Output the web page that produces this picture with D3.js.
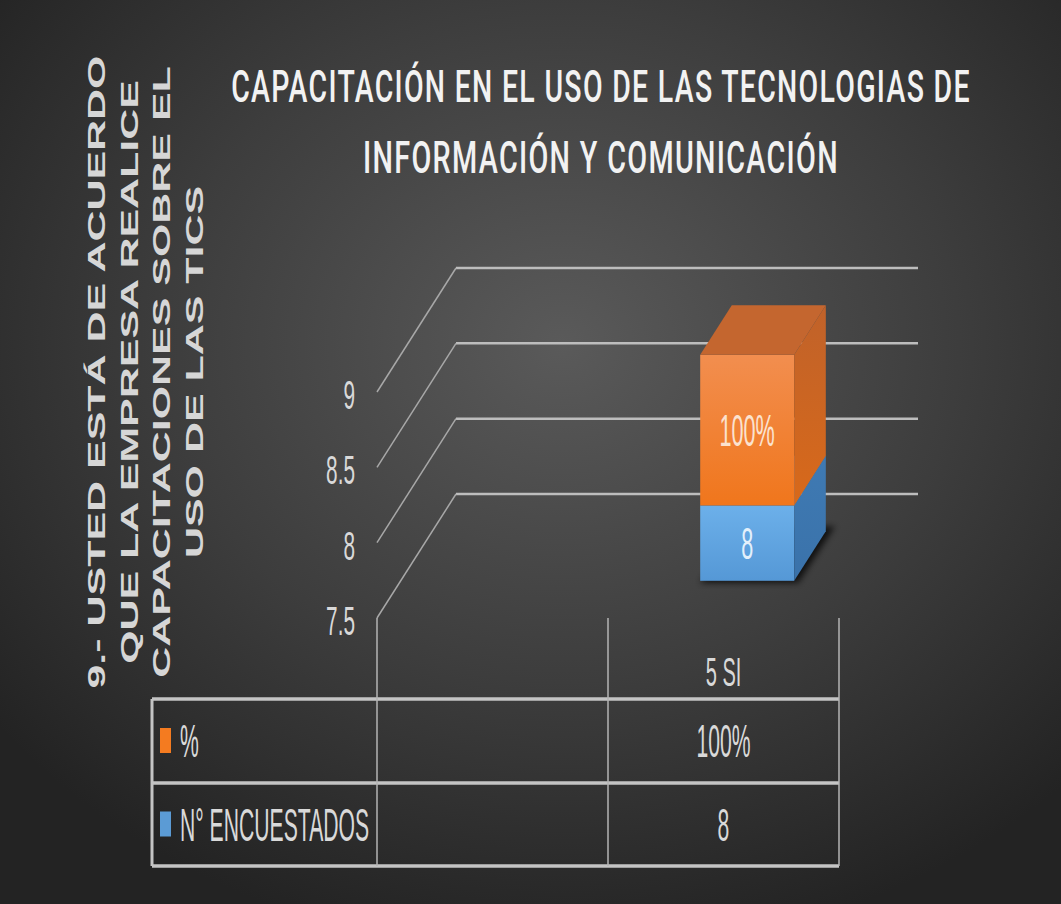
<!DOCTYPE html>
<html>
<head>
<meta charset="utf-8">
<script src="https://cdn.jsdelivr.net/npm/d3@7"></script>
<style>
  html, body { margin: 0; padding: 0; background: #2a2a2a; }
  svg { display: block; }
</style>
</head>
<body>
<div id="chart"></div>
<script>
// datos del grafico
var categories = ["", "5 SI"];
var seriesNames = ["N° ENCUESTADOS", "%"];
var encuestados = [null, 8];
var porcentaje = [null, 1];
var yTicks = [7.5, 8, 8.5, 9];
var titleLines = ["CAPACITACIÓN EN EL USO DE LAS TECNOLOGIAS DE", "INFORMACIÓN Y COMUNICACIÓN"];
var yTitleLines = ["9.- USTED ESTÁ DE ACUERDO", "QUE LA EMPRESA REALICE", "CAPACITACIONES SOBRE EL", "USO DE LAS TICS"];

var width = 1061, height = 904;
var fmtPct = d3.format(".0%");

var svg = d3.select("#chart").append("svg")
  .attr("width", width)
  .attr("height", height);

var defs = svg.append("defs");

// fondo radial
var bg = defs.append("radialGradient").attr("id", "bg")
  .attr("cx", "53%").attr("cy", "38%").attr("r", "68%");
bg.append("stop").attr("offset", "0%").attr("stop-color", "#5a5a5a");
bg.append("stop").attr("offset", "55%").attr("stop-color", "#3d3d3d");
bg.append("stop").attr("offset", "100%").attr("stop-color", "#232323");

function vgrad(id, c1, c2) {
  var g = defs.append("linearGradient").attr("id", id)
    .attr("x1", 0).attr("y1", 0).attr("x2", 0).attr("y2", 1);
  g.append("stop").attr("offset", "0%").attr("stop-color", c1);
  g.append("stop").attr("offset", "100%").attr("stop-color", c2);
}
vgrad("frontOrange", "#f28e4f", "#f0761c");
vgrad("sideOrange", "#c0622a", "#d8691a");
vgrad("frontBlue", "#6cb0ea", "#5598d6");
vgrad("sideBlue", "#3f7ab3", "#3a72aa");

defs.append("filter").attr("id", "blur")
  .append("feGaussianBlur").attr("stdDeviation", 3);

svg.append("rect")
  .attr("width", width).attr("height", height)
  .attr("fill", "url(#bg)");

// escalas (plano frontal) y vector de profundidad
var x = d3.scaleBand().domain(categories).range([377, 839]);
var y = d3.scaleLinear().domain([7.5, 9]).range([618, 392]);
var depth = { dx: 79, dy: -124 };
function proj(px, py, z) { return [px + z * depth.dx, py + z * depth.dy]; }

var plot = svg.append("g");

// lineas de la pared del fondo
plot.selectAll(".grid-back")
  .data(yTicks)
  .enter()
  .append("line")
  .attr("class", "grid-back")
  .attr("x1", proj(x.range()[0], 0, 1)[0])
  .attr("x2", proj(x.range()[1], 0, 1)[0])
  .attr("y1", function (d) { return proj(0, y(d), 1)[1]; })
  .attr("y2", function (d) { return proj(0, y(d), 1)[1]; })
  .attr("stroke", "#bdbdbd")
  .attr("stroke-width", 2.5);

// lineas de la pared lateral
plot.selectAll(".grid-side")
  .data(yTicks)
  .enter()
  .append("line")
  .attr("class", "grid-side")
  .attr("x1", x.range()[0])
  .attr("y1", function (d) { return y(d); })
  .attr("x2", proj(x.range()[0], 0, 1)[0])
  .attr("y2", function (d) { return proj(0, y(d), 1)[1]; })
  .attr("stroke", "#a8a8a8")
  .attr("stroke-width", 1.5);

// texto angosto (estirado en vertical como en la imagen)
function condensed(g, txt, px, py, size, sx, anchor, fill) {
  return g.append("text")
    .attr("transform", "translate(" + px + "," + py + ") scale(" + sx + ",1)")
    .attr("text-anchor", anchor)
    .attr("font-family", "'Liberation Sans', Arial, sans-serif")
    .attr("font-size", size)
    .attr("fill", fill || "#d9d9d9")
    .text(txt);
}
yTicks.forEach(function (t) {
  condensed(plot, String(t), 355, y(t) + 17, 40, 0.52, "end");
});

// barras apiladas en 3D
var rows = categories.map(function (c, i) {
  return { cat: c, "N° ENCUESTADOS": encuestados[i] || 0, "%": porcentaje[i] || 0 };
});
var stack = d3.stack().keys(seriesNames)(rows);
var faceColors = {
  "N° ENCUESTADOS": { front: "url(#frontBlue)", side: "url(#sideBlue)", top: "#4a86c0" },
  "%": { front: "url(#frontOrange)", side: "url(#sideOrange)", top: "#c4662f" }
};
var barW = 94, z0 = 0.3, z1 = 0.7;
var ymin = y.domain()[0];

function poly(pts) { return pts.map(function (p) { return p.join(","); }).join(" "); }

var bars = plot.append("g");
// sombra en el piso
rows.forEach(function (r, i) {
  if (!encuestados[i]) return;
  var cx = x(r.cat) + x.bandwidth() / 2;
  var xa = cx - barW / 2, xb = cx + barW / 2, yb = y(ymin);
  bars.append("polygon")
    .attr("points", poly([proj(xa, yb + 2, z0), proj(xb + 4, yb + 2, z0), proj(xb + 6, yb, z1 + 0.04), proj(xa + 6, yb, z1)]))
    .attr("fill", "#000")
    .attr("opacity", 0.75)
    .attr("filter", "url(#blur)");
});

stack.forEach(function (layer) {
  layer.forEach(function (d, i) {
    if (d[1] - d[0] <= 0) return;
    var cx = x(categories[i]) + x.bandwidth() / 2;
    var xa = cx - barW / 2, xb = cx + barW / 2;
    var ya = y(Math.max(d[0], ymin)), yb = y(Math.min(d[1], y.domain()[1]));
    var col = faceColors[layer.key];
    // cara frontal
    var f0 = proj(xa, ya, z0), f1 = proj(xb, yb, z0);
    bars.append("rect")
      .attr("x", f0[0]).attr("y", f1[1])
      .attr("width", f1[0] - f0[0]).attr("height", f0[1] - f1[1])
      .attr("fill", col.front);
    // cara lateral
    bars.append("polygon")
      .attr("points", poly([proj(xb, ya, z0), proj(xb, ya, z1), proj(xb, yb, z1), proj(xb, yb, z0)]))
      .attr("fill", col.side);
    // cara superior
    bars.append("polygon")
      .attr("points", poly([proj(xa, yb, z0), proj(xb, yb, z0), proj(xb, yb, z1), proj(xa, yb, z1)]))
      .attr("fill", col.top);
    // etiqueta de datos
    var val = layer.key === "%" ? fmtPct(porcentaje[i]) : String(encuestados[i]);
    var my = (ya + yb) / 2 + z0 * depth.dy;
    condensed(bars, val, (f0[0] + f1[0]) / 2, my + 16, 45, 0.48, "middle",
      layer.key === "%" ? "#fbe2cf" : "#e3f0fb");
  });
});

// tabla de datos
var table = svg.append("g");
var tTop = 699, tMid = 783, tBot = 866, tLeft = 152;
var lineCol = "#c4c4c4";
[tTop, tMid, tBot].forEach(function (ty) {
  table.append("line")
    .attr("x1", tLeft).attr("x2", x.range()[1])
    .attr("y1", ty).attr("y2", ty)
    .attr("stroke", lineCol).attr("stroke-width", 3.5);
});
table.append("line")
  .attr("x1", tLeft).attr("x2", tLeft)
  .attr("y1", tTop).attr("y2", tBot)
  .attr("stroke", lineCol).attr("stroke-width", 3);
var colEdges = [x.range()[0]].concat(categories.map(function (c) { return x(c) + x.bandwidth(); }));
colEdges.forEach(function (cx) {
  table.append("line")
    .attr("x1", cx).attr("x2", cx)
    .attr("y1", y(ymin)).attr("y2", tBot)
    .attr("stroke", "#b5b5b5").attr("stroke-width", 1.5);
});

// etiquetas de categoria
categories.forEach(function (c) {
  condensed(table, c, x(c) + x.bandwidth() / 2, 686, 40, 0.5, "middle");
});

// filas: % arriba, N° ENCUESTADOS abajo
var tableRows = [
  { name: "%", color: "#f47b20", values: porcentaje.map(function (v) { return v == null ? "" : fmtPct(v); }), y0: tTop },
  { name: "N° ENCUESTADOS", color: "#5b9bd5", values: encuestados.map(function (v) { return v == null ? "" : String(v); }), y0: tMid }
];
tableRows.forEach(function (r) {
  var my = (r.y0 + (r.y0 === tTop ? tMid : tBot)) / 2;
  table.append("rect")
    .attr("x", 160).attr("y", my - 13)
    .attr("width", 11).attr("height", 25)
    .attr("fill", r.color);
  condensed(table, r.name, 180, my + 16, 46, 0.46, "start");
  r.values.forEach(function (v, i) {
    condensed(table, v, x(categories[i]) + x.bandwidth() / 2, my + 16, 46, 0.46, "middle");
  });
});

// titulo: se mide y se comprime al ancho de la imagen
var titleWidth = [740, 476];
titleLines.forEach(function (t, i) {
  var tx = svg.append("text")
    .attr("text-anchor", "middle")
    .attr("font-family", "Roboto, 'Open Sans', sans-serif")
    .attr("font-weight", 500)
    .attr("font-size", 44)
    .attr("letter-spacing", 2)
    .attr("fill", "#f2f2f2")
    .text(t);
  var sx = titleWidth[i] / tx.node().getComputedTextLength();
  tx.attr("transform", "translate(601," + (102 + i * 71) + ") scale(" + sx + ",1)");
});

// titulo del eje y (rotado)
yTitleLines.forEach(function (t, i) {
  svg.append("text")
    .attr("transform", "translate(" + (105 + i * 32.5) + ",372) rotate(-90) scale(1.79,1)")
    .attr("text-anchor", "middle")
    .attr("font-family", "'Liberation Sans', Arial, sans-serif")
    .attr("font-weight", "bold")
    .attr("font-size", 24)
    .attr("fill", "#d6d6d6")
    .text(t);
});
</script>
</body>
</html>
